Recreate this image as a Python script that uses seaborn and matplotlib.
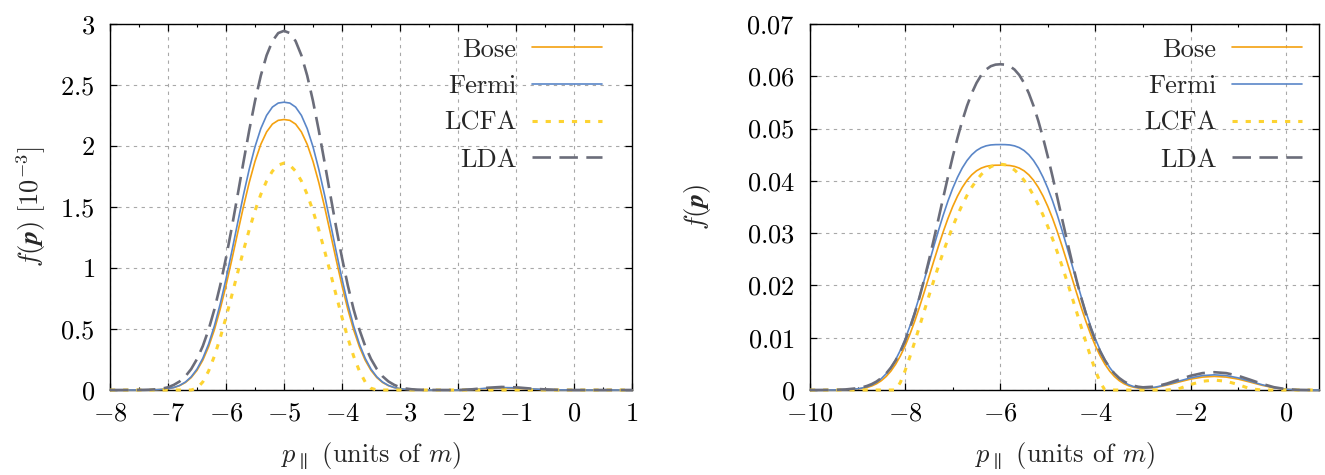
import numpy as np
import pandas as pd
import matplotlib
matplotlib.use("Agg")
import matplotlib.pyplot as plt
import seaborn as sns
from matplotlib.ticker import MultipleLocator, FuncFormatter

# ---------------- data ----------------
series_names = ["Bose", "Fermi", "LCFA", "LDA"]

# left panel: f(p) in units of 1e-3
x_left = np.concatenate([[-8.0, -7.75], np.round(np.arange(-7.5, -2.49, 0.1), 2),
                         np.arange(-2.25, 1.001, 0.25)])
bose_left = [0, 0,
             0.0002, 0.0005, 0.0011, 0.0024, 0.0051, 0.0102, 0.0195, 0.0354, 0.0614, 0.1017,
             0.1610, 0.2440, 0.3543, 0.4941, 0.6626, 0.8559, 1.0670, 1.2858, 1.5008, 1.7003,
             1.8737, 2.0135, 2.1154, 2.1796, 2.2103, 2.2170,
             2.2103, 2.1796, 2.1154, 2.0135, 1.8737, 1.7003, 1.5008, 1.2858, 1.0670, 0.8559,
             0.6626, 0.4941, 0.3543, 0.2440, 0.1610, 0.1017, 0.0614, 0.0354, 0.0195, 0.0102,
             0.0051, 0.0024, 0.0011, 0.0005, 0.0002,
             0, 0, 0.004, 0.012, 0.016, 0.014, 0.008, 0.003, 0.001, 0, 0, 0, 0, 0]
fermi_left = [0, 0,
              0.0002, 0.0005, 0.0012, 0.0026, 0.0054, 0.0109, 0.0207, 0.0377, 0.0653, 0.1082,
              0.1713, 0.2596, 0.3770, 0.5257, 0.7050, 0.9107, 1.1353, 1.3682, 1.5969, 1.8092,
              1.9937, 2.1425, 2.2509, 2.3192, 2.3519, 2.3590,
              2.3519, 2.3192, 2.2509, 2.1425, 1.9937, 1.8092, 1.5969, 1.3682, 1.1353, 0.9107,
              0.7050, 0.5257, 0.3770, 0.2596, 0.1713, 0.1082, 0.0653, 0.0377, 0.0207, 0.0109,
              0.0054, 0.0026, 0.0012, 0.0005, 0.0002,
              0, 0, 0.005, 0.015, 0.020, 0.018, 0.010, 0.004, 0.001, 0, 0, 0, 0, 0]
lcfa_left = [0, 0,
             0, 0, 0, 0, 0, 0, 0, 0, 0, 0,
             0.0145, 0.0661, 0.1554, 0.2778, 0.4269, 0.5953, 0.7755, 0.9597, 1.1410, 1.3126,
             1.4685, 1.6034, 1.7130, 1.7938, 1.8433, 1.8600,
             1.8433, 1.7938, 1.7130, 1.6034, 1.4685, 1.3126, 1.1410, 0.9597, 0.7755, 0.5953,
             0.4269, 0.2778, 0.1554, 0.0661, 0.0145, 0, 0, 0, 0, 0,
             0, 0, 0, 0, 0,
             0, 0, 0, 0, 0, 0, 0, 0, 0, 0, 0, 0, 0, 0]
lda_left = [0, 0.0001,
            0.0007, 0.0015, 0.0030, 0.0060, 0.0120, 0.0220, 0.0420, 0.0700, 0.1120, 0.1720,
            0.2540, 0.3600, 0.4950, 0.6612, 0.8576, 1.0830, 1.3319, 1.5963, 1.8654, 2.1271,
            2.3682, 2.5768, 2.7429, 2.8599, 2.9255, 2.9440,
            2.9255, 2.8599, 2.7429, 2.5768, 2.3682, 2.1271, 1.8654, 1.5963, 1.3319, 1.0830,
            0.8576, 0.6612, 0.4950, 0.3600, 0.2540, 0.1720, 0.1120, 0.0700, 0.0420, 0.0220,
            0.0120, 0.0060, 0.0030, 0.0015, 0.0007,
            0.0001, 0, 0.006, 0.018, 0.025, 0.022, 0.012, 0.005, 0.001, 0, 0, 0, 0, 0]

# right panel
x_right = np.concatenate([[-10.0, -9.75, -9.5, -9.25], np.round(np.arange(-9.0, -2.99, 0.1), 2),
                          np.arange(-2.75, 0.501, 0.25), [0.7]])
bose_right = [0, 0, 0.00001, 0.00004,
              0.00018, 0.00030, 0.00049, 0.00078, 0.00120, 0.00179, 0.00258, 0.00361, 0.00492,
              0.00653, 0.00844, 0.01065, 0.01312, 0.01582, 0.01868, 0.02163, 0.02460, 0.02750,
              0.03025, 0.03280, 0.03508, 0.03707, 0.03874, 0.04010, 0.04115, 0.04192, 0.04244,
              0.04276, 0.04293, 0.04299, 0.04300,
              0.04299, 0.04293, 0.04276, 0.04244, 0.04192, 0.04115, 0.04010, 0.03874, 0.03707,
              0.03508, 0.03280, 0.03025, 0.02750, 0.02460, 0.02163, 0.01868, 0.01582, 0.01312,
              0.01065, 0.00844, 0.00653, 0.00492, 0.00361, 0.00258, 0.00179, 0.00121, 0.00080,
              0.00053, 0.00038, 0.00031,
              0.00046, 0.00092, 0.00151, 0.00208, 0.00247, 0.00260, 0.00247, 0.00208, 0.00151,
              0.00091, 0.00042, 0.00013, 0.00003, 0, 0]
fermi_right = [0, 0, 0.00001, 0.00006,
               0.00023, 0.00039, 0.00063, 0.00098, 0.00148, 0.00218, 0.00310, 0.00430, 0.00579,
               0.00761, 0.00975, 0.01219, 0.01492, 0.01787, 0.02099, 0.02418, 0.02738, 0.03048,
               0.03342, 0.03614, 0.03856, 0.04067, 0.04245, 0.04388, 0.04499, 0.04580, 0.04635,
               0.04669, 0.04687, 0.04693, 0.04694,
               0.04693, 0.04687, 0.04669, 0.04635, 0.04580, 0.04499, 0.04388, 0.04245, 0.04067,
               0.03856, 0.03614, 0.03342, 0.03048, 0.02738, 0.02418, 0.02099, 0.01787, 0.01492,
               0.01219, 0.00975, 0.00761, 0.00579, 0.00430, 0.00310, 0.00218, 0.00149, 0.00100,
               0.00067, 0.00048, 0.00038,
               0.00052, 0.00103, 0.00168, 0.00232, 0.00276, 0.00290, 0.00276, 0.00232, 0.00168,
               0.00102, 0.00046, 0.00015, 0.00003, 0, 0]
lcfa_right = [0, 0, 0, 0,
              0, 0, 0, 0, 0, 0, 0, 0, 0,
              0.00146, 0.00372, 0.00635, 0.00917, 0.01210, 0.01506, 0.01800, 0.02088, 0.02368,
              0.02635, 0.02888, 0.03124, 0.03343, 0.03542, 0.03720, 0.03877, 0.04011, 0.04121,
              0.04208, 0.04270, 0.04308, 0.04320,
              0.04308, 0.04270, 0.04208, 0.04121, 0.04011, 0.03877, 0.03720, 0.03542, 0.03343,
              0.03124, 0.02888, 0.02635, 0.02368, 0.02088, 0.01800, 0.01506, 0.01210, 0.00917,
              0.00635, 0.00372, 0.00146,
              0, 0, 0, 0, 0, 0, 0, 0, 0,
              0, 0, 0.00023, 0.00105, 0.00167, 0.00190, 0.00167, 0.00105, 0.00023,
              0, 0, 0, 0, 0, 0]
lda_right = [0, 0.00001, 0.00003, 0.00011,
             0.00034, 0.00052, 0.00078, 0.00114, 0.00163, 0.00229, 0.00315, 0.00426, 0.00565,
             0.00735, 0.00940, 0.01180, 0.01456, 0.01768, 0.02110, 0.02480, 0.02869, 0.03271,
             0.03677, 0.04076, 0.04460, 0.04819, 0.05145, 0.05432, 0.05675, 0.05872, 0.06023,
             0.06128, 0.06193, 0.06223, 0.06230,
             0.06223, 0.06193, 0.06128, 0.06023, 0.05872, 0.05675, 0.05432, 0.05145, 0.04819,
             0.04460, 0.04076, 0.03677, 0.03271, 0.02869, 0.02480, 0.02110, 0.01768, 0.01456,
             0.01180, 0.00940, 0.00735, 0.00565, 0.00426, 0.00315, 0.00229, 0.00164, 0.00116,
             0.00083, 0.00062, 0.00051,
             0.00065, 0.00122, 0.00198, 0.00272, 0.00323, 0.00340, 0.00323, 0.00272, 0.00197,
             0.00119, 0.00054, 0.00017, 0.00003, 0, 0]

left_ticks_x = [-8, -7, -6, -5, -4, -3, -2, -1, 0, 1]
left_ticks_y = [0, 0.5, 1, 1.5, 2, 2.5, 3]
right_ticks_x = [-10, -8, -6, -4, -2, 0]
right_ticks_y = [0, 0.01, 0.02, 0.03, 0.04, 0.05, 0.06, 0.07]

# ---------------- style ----------------
sns.set_theme(style="ticks")
plt.rcParams.update({
    "font.family": "serif",
    "font.serif": ["cmr10"],
    "mathtext.fontset": "cm",
    "axes.formatter.use_mathtext": True,
    "axes.unicode_minus": True,
    "font.size": 19,
    "axes.linewidth": 1.0,
    "axes.edgecolor": "black",
})

FS = 19
colors = {"Bose": "#F4A10F", "Fermi": "#5A86C8", "LCFA": "#FDD331", "LDA": "#6B6D7A"}
widths = {"Bose": 1.2, "Fermi": 1.2, "LCFA": 2.2, "LDA": 1.9}
styles = {"Bose": "-", "Fermi": "-", "LCFA": (0, (1.7, 2.6)), "LDA": (0, (7.0, 3.2))}

fig = plt.figure(figsize=(13.25, 4.75), dpi=100)
axL = fig.add_axes([110 / 1325, 85 / 475, 522 / 1325, 366 / 475])
axR = fig.add_axes([810 / 1325, 85 / 475, 509 / 1325, 366 / 475])


def fmt(v, pos):
    return "$%g$" % round(v, 6)


def draw(ax, x, ys, xlim, ylim, xt, yt, xminor, leg_x, ylab_pos):
    df = pd.DataFrame({"p": np.tile(x, 4),
                       "f": np.concatenate([np.asarray(y, float) for y in ys]),
                       "series": np.repeat(series_names, len(x))})
    handles = []
    for name in series_names:
        sub = df[df["series"] == name]
        sns.lineplot(data=sub, x="p", y="f", ax=ax, color=colors[name],
                     linewidth=widths[name], linestyle=styles[name],
                     estimator=None, sort=False, legend=False)
        line = ax.lines[-1]
        line.set_clip_on(False)
        line.set_zorder(3)
        handles.append(line)
    ax.set_xlim(*xlim)
    ax.set_ylim(*ylim)
    ax.set_xticks(xt)
    ax.set_yticks(yt)
    ax.xaxis.set_minor_locator(MultipleLocator(xminor))
    ax.xaxis.set_major_formatter(FuncFormatter(fmt))
    ax.yaxis.set_major_formatter(FuncFormatter(fmt))
    ax.tick_params(which="both", direction="in", top=True, right=True, colors="black")
    ax.tick_params(which="major", length=5, width=0.9, labelsize=FS)
    ax.tick_params(axis="x", which="major", pad=8.5)
    ax.tick_params(axis="y", which="major", pad=11)
    ax.tick_params(which="minor", length=2.5, width=0.8)
    ax.grid(True, which="major", color="#a8a8a8", linewidth=0.8, linestyle=(0, (3, 4)))
    ax.set_axisbelow(True)
    for s in ax.spines.values():
        s.set_visible(True)
        s.set_linewidth(1.0)
        s.set_color("black")
    ax.set_xlabel(r"$p_{\parallel}$ (units of $m$)", fontsize=FS)
    ax.xaxis.set_label_coords(0.5, -0.137)
    ax.yaxis.set_label_coords(*ylab_pos)
    ax.legend(handles, series_names, loc="upper right", bbox_to_anchor=(leg_x, 0.962),
              frameon=False, markerfirst=False, borderpad=0, borderaxespad=0,
              handlelength=2.65, handletextpad=0.6, labelspacing=0.49, fontsize=FS)


draw(axL, x_left, [bose_left, fermi_left, lcfa_left, lda_left], (-8, 1), (0, 3),
     left_ticks_x, left_ticks_y, 0.5, 0.9425, (-0.118, 0.52))
draw(axR, x_right, [bose_right, fermi_right, lcfa_right, lda_right], (-10, 0.7), (0, 0.07),
     right_ticks_x, right_ticks_y, 1.0, 0.9666, (-0.19, 0.46))

ylab_left = r"$f(\mathbfit{p})\ [10^{-3}]$"
ylab_right = r"$f(\mathbfit{p})$"
try:
    axL.set_ylabel(ylab_left, fontsize=FS)
    axR.set_ylabel(ylab_right, fontsize=FS)
    fig.canvas.draw()
except Exception:
    axL.set_ylabel(r"$f(\mathbf{p})\ [10^{-3}]$", fontsize=FS)
    axR.set_ylabel(r"$f(\mathbf{p})$", fontsize=FS)

fig.savefig("out.png", dpi=100)
